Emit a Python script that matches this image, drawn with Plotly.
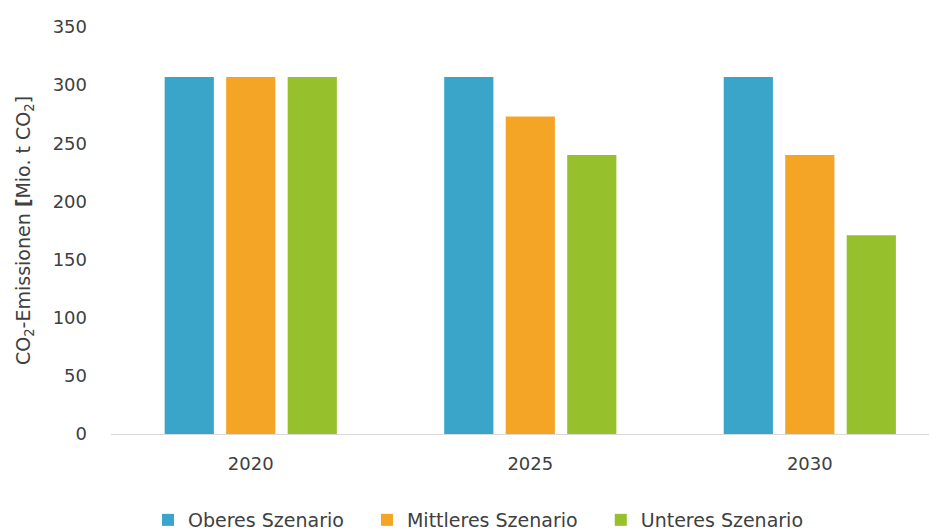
import plotly.graph_objects as go

years = ["2020", "2025", "2030"]
oberes = [307, 307, 307]
mittleres = [307, 273, 240]
unteres = [307, 240, 171]
series_names = ["Oberes Szenario", "Mittleres Szenario", "Unteres Szenario"]
colors = ["#3AA4C9", "#F5A526", "#96C12D"]

PAD = "\u00a0\u00a0\u00a0"

fig = go.Figure()
for name, vals, col in zip(series_names, [oberes, mittleres, unteres], colors):
    fig.add_trace(go.Bar(x=years, y=vals, name=name + PAD, marker_color=col, marker_line_width=0))

FONT = "'DejaVu Sans', sans-serif"
W, H = 929, 522
fig.update_layout(
    width=W, height=H,
    margin=dict(l=103, r=0, t=19, b=96, autoexpand=False),
    paper_bgcolor="white", plot_bgcolor="white",
    font=dict(family=FONT, size=16, color="#404040"),
    barmode="group", bargap=0.34, bargroupgap=0.2,
    showlegend=True,
    legend=dict(orientation="h", xref="container", yref="container",
                x=140 / W, xanchor="left", y=1 - 512 / H, yanchor="middle",
                font=dict(family=FONT, size=19, color="#404040"), itemwidth=30,
                traceorder="normal", bgcolor="rgba(0,0,0,0)"),
)
fig.update_xaxes(type="category", range=[-0.5, 2.455], showline=True, linecolor="#D9D9D9",
                 linewidth=1, showgrid=False, ticks="", ticklabelstandoff=13,
                 automargin=False, tickfont=dict(family=FONT, size=18, color="#404040"))
fig.update_yaxes(range=[0, 350], dtick=50, showgrid=False, zeroline=False, showline=False,
                 ticks="", ticklabelstandoff=23, automargin=False,
                 tickfont=dict(family=FONT, size=18, color="#404040"),
                 title=dict(text="CO<sub>2</sub>-Emissionen <b>[</b>Mio. t CO<sub>2</sub>]\u00a0\u00a0\u00a0",
                            font=dict(family=FONT, size=19, color="#404040"), standoff=16))

fig.write_html("out.html")
